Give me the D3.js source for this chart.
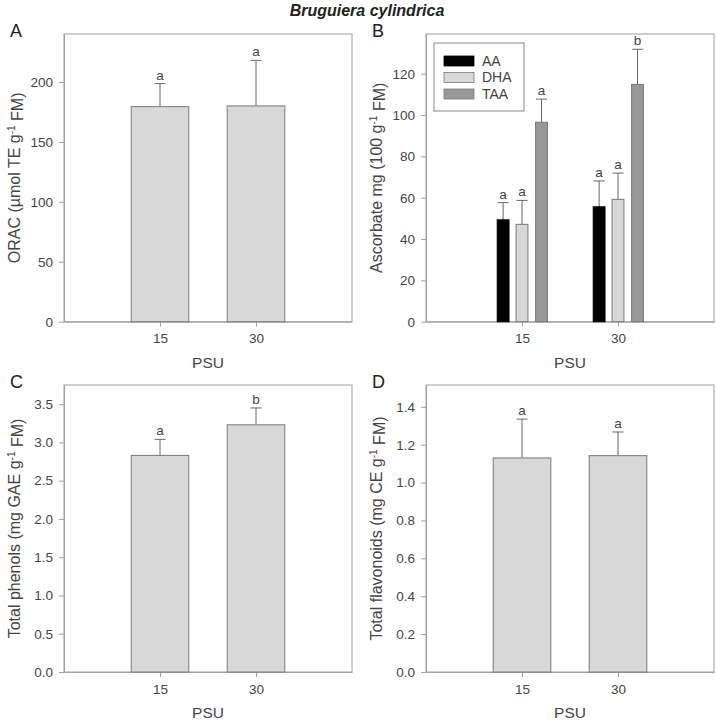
<!DOCTYPE html>
<html>
<head>
<meta charset="utf-8">
<script src="https://cdn.jsdelivr.net/npm/d3@7"></script>
<style>
  body { margin: 0; background: #fff; }
  svg { display: block; font-family: "Liberation Sans", Arial, sans-serif; }
</style>
</head>
<body>
<svg id="chart" width="716" height="720"></svg>
<script>
// ---- Data ----
const psu = [15, 30];

const oracMean = [179.4, 180.0];
const oracErr  = [19.2, 38.0];
const oracLetters = ["a", "a"];

const ascSeries = ["AA", "DHA", "TAA"];
const aaMean  = [49.3, 55.6];
const aaErr   = [8.3, 12.5];
const dhaMean = [47.1, 59.2];
const dhaErr  = [11.6, 12.7];
const taaMean = [96.5, 114.8];
const taaErr  = [11.2, 17.0];
const aaLetters  = ["a", "a"];
const dhaLetters = ["a", "a"];
const taaLetters = ["a", "b"];

const phenMean = [2.83, 3.23];
const phenErr  = [0.21, 0.22];
const phenLetters = ["a", "b"];

const flavMean = [1.13, 1.142];
const flavErr  = [0.205, 0.125];
const flavLetters = ["a", "a"];

const oracTicks = [0, 50, 100, 150, 200];
const ascTicks  = [0, 20, 40, 60, 80, 100, 120];
const phenTicks = [0, 0.5, 1.0, 1.5, 2.0, 2.5, 3.0, 3.5];
const flavTicks = [0, 0.2, 0.4, 0.6, 0.8, 1.0, 1.2, 1.4];

// ---- Styles ----
const frameColor = "#a0a0a0";
const textColor = "#444";
const barStroke = "#7a7a7a";
const errColor = "#666";
const fills = { single: "#d8d8d8", AA: "#000000", DHA: "#d8d8d8", TAA: "#999999" };

const svg = d3.select("#chart");

svg.append("text")
  .attr("x", 367).attr("y", 16)
  .attr("text-anchor", "middle")
  .style("font-size", "16px").style("font-weight", "bold").style("font-style", "italic")
  .attr("fill", "#222")
  .text("Bruguiera cylindrica");

function panel(opts) {
  const { left, top, width, height, yMax, yTicks, fmt, letter, ylabel } = opts;
  const g = svg.append("g").attr("transform", `translate(${left},${top})`);
  const x = d3.scaleLinear().domain([0, 45]).range([0, width]);
  const y = d3.scaleLinear().domain([0, yMax]).range([height, 0]);

  g.append("rect").attr("x", 0).attr("y", 0).attr("width", width).attr("height", height)
    .attr("fill", "none").attr("stroke", frameColor).attr("stroke-width", 1);

  const ya = g.append("g").call(d3.axisLeft(y).tickValues(yTicks).tickFormat(fmt).tickSize(5).tickPadding(6).tickSizeOuter(0));
  const xa = g.append("g").attr("transform", `translate(0,${height})`)
    .call(d3.axisBottom(x).tickValues(psu).tickFormat(d3.format("d")).tickSize(5).tickPadding(7).tickSizeOuter(0));
  [ya, xa].forEach(a => {
    a.select(".domain").attr("stroke", frameColor);
    a.selectAll(".tick line").attr("stroke", frameColor);
    a.selectAll(".tick text").attr("fill", textColor).style("font-size", "13.5px")
      .style("font-family", "'Liberation Sans', Arial, sans-serif");
  });

  svg.append("text").attr("x", left - 54).attr("y", top + 3)
    .style("font-size", "18px").attr("fill", "#222").text(letter);

  g.append("text").attr("x", width / 2).attr("y", height + 46)
    .attr("text-anchor", "middle").style("font-size", "15.5px").attr("fill", textColor).text("PSU");

  const yl = g.append("text")
    .attr("transform", `translate(${-50},${height / 2}) rotate(-90)`)
    .attr("text-anchor", "middle").attr("dy", "0.35em")
    .style("font-size", "16px").attr("fill", textColor);
  yl.append("tspan").text(ylabel[0]);
  yl.append("tspan").attr("dy", "-0.5em").style("font-size", "10px").text("-1");
  yl.append("tspan").attr("dy", "0.5em").text(ylabel[1]);

  return { g, x, y };
}

function drawBars(p, xs, means, errs, letters, bw, fill) {
  const { g, x, y } = p;
  const w = x(bw) - x(0);
  means.forEach((m, i) => {
    const cx = x(xs[i]);
    const top = y(m + errs[i]);
    g.append("line").attr("x1", cx).attr("x2", cx).attr("y1", y(m)).attr("y2", top)
      .attr("stroke", errColor).attr("stroke-width", 1);
    g.append("line").attr("x1", cx - 5.5).attr("x2", cx + 5.5).attr("y1", top).attr("y2", top)
      .attr("stroke", errColor).attr("stroke-width", 1);
    g.append("rect").attr("x", cx - w / 2).attr("y", y(m)).attr("width", w).attr("height", y(0) - y(m))
      .attr("fill", fill).attr("stroke", fill === "#000000" ? "#000" : barStroke).attr("stroke-width", 1);
    g.append("text").attr("x", cx).attr("y", top - 4).attr("text-anchor", "middle")
      .style("font-size", "13.5px").attr("fill", textColor).text(letters[i]);
  });
}

// Panel A
const pA = panel({ left: 64, top: 34, width: 288, height: 287.7, yMax: 240, yTicks: oracTicks,
  fmt: d3.format("d"), letter: "A", ylabel: ["ORAC (\u00b5mol TE g", " FM)"] });
drawBars(pA, psu, oracMean, oracErr, oracLetters, 9, fills.single);

// Panel B
const pB = panel({ left: 426, top: 34, width: 288, height: 287.7, yMax: 139.2, yTicks: ascTicks,
  fmt: d3.format("d"), letter: "B", ylabel: ["Ascorbate mg (100 g", " FM)"] });
drawBars(pB, psu.map(d => d - 2.95), aaMean, aaErr, aaLetters, 1.85, fills.AA);
drawBars(pB, psu, dhaMean, dhaErr, dhaLetters, 1.85, fills.DHA);
drawBars(pB, psu.map(d => d + 3.05), taaMean, taaErr, taaLetters, 1.85, fills.TAA);

// Legend
const lg = pB.g.append("g").attr("transform", "translate(8,9)");
lg.append("rect").attr("width", 90).attr("height", 68).attr("fill", "#fff")
  .attr("stroke", "#888").attr("stroke-width", 1);
ascSeries.forEach((s, i) => {
  lg.append("rect").attr("x", 10).attr("y", 13 + i * 16.5).attr("width", 30).attr("height", 10)
    .attr("fill", fills[s]).attr("stroke", s === "AA" ? "#000" : barStroke).attr("stroke-width", 0.8);
  lg.append("text").attr("x", 48).attr("y", 18 + i * 16.5).attr("dy", "0.35em")
    .style("font-size", "14px").attr("fill", textColor).text(s);
});

// Panel C
const pC = panel({ left: 64, top: 385, width: 288, height: 287, yMax: 3.75, yTicks: phenTicks,
  fmt: d3.format(".1f"), letter: "C", ylabel: ["Total phenols (mg GAE g", " FM)"] });
drawBars(pC, psu, phenMean, phenErr, phenLetters, 9, fills.single);

// Panel D
const pD = panel({ left: 426, top: 385, width: 288, height: 287, yMax: 1.515, yTicks: flavTicks,
  fmt: d3.format(".1f"), letter: "D", ylabel: ["Total flavonoids (mg CE g", " FM)"] });
drawBars(pD, psu, flavMean, flavErr, flavLetters, 9, fills.single);
</script>
</body>
</html>
